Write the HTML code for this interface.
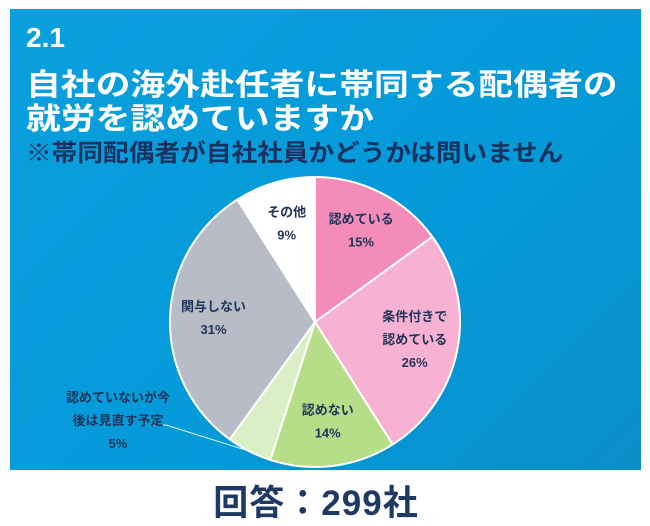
<!DOCTYPE html>
<html><head><meta charset="utf-8"><style>
body{margin:0;width:650px;height:525px;background:#fff;overflow:hidden;font-family:"Liberation Sans","Noto Sans CJK JP",sans-serif}
#panel{position:absolute;left:10px;top:9px;width:631px;height:461px;background:linear-gradient(135deg,#0aa0de 0%,#0499d8 60%,#0a8fc8 100%)}
.t{position:absolute;left:16px;color:#fff;font-weight:bold;white-space:nowrap;transform-origin:0 0}
#foot{position:absolute;left:0;width:632px;top:475px;text-align:center;font-size:35px;font-weight:bold;color:#1f3864;letter-spacing:1px}
</style></head><body>
<div id="panel">
<div class="t" style="top:13px;font-size:28px">2.1</div>
<div class="t" style="top:51px;font-size:30px;transform:scaleX(1.16)">自社の海外赴任者に帯同する配偶者の</div>
<div class="t" style="top:85px;font-size:30px;transform:scaleX(1.16)">就労を認めていますか</div>
<div class="t" style="top:124px;font-size:24px;transform:scaleX(1.07);color:#17325e">※帯同配偶者が自社社員かどうかは問いません</div>
</div>
<svg id="pie" width="650" height="525" style="position:absolute;left:0;top:0"></svg>
<div id="foot">回答：299社</div>
<script>
const categories=["認めている","条件付きで認めている","認めない","認めていないが今後は見直す予定","関与しない","その他"];
const values=[15,26,14,5,31,9];
const labelLines=[["認めている"],["条件付きで","認めている"],["認めない"],["認めていないが今","後は見直す予定"],["関与しない"],["その他"]];
const colors=["#f48cba","#f7b1d2","#b6dd88","#dbefc6","#b8bcc6","#ffffff"];
const cx=315,cy=322,r=145;
const svg=document.getElementById('pie');
const NS='http://www.w3.org/2000/svg';
const total=values.reduce((a,b)=>a+b,0);
function pt(a,rr){return [cx+rr*Math.sin(a),cy-rr*Math.cos(a)];}
let acc=0;
values.forEach((v,i)=>{
  const a0=acc/total*2*Math.PI;acc+=v;const a1=acc/total*2*Math.PI;
  const p0=pt(a0,r),p1=pt(a1,r);
  const path=document.createElementNS(NS,'path');
  path.setAttribute('d',`M${cx},${cy}L${p0[0]},${p0[1]}A${r},${r} 0 ${a1-a0>Math.PI?1:0} 1 ${p1[0]},${p1[1]}Z`);
  path.setAttribute('fill',colors[i]);path.setAttribute('stroke','#fff');path.setAttribute('stroke-width','2');
  
  
  svg.appendChild(path);
  const mid=(a0+a1)/2;
  let lx,ly,anchor='middle';
  const lines=labelLines[i].concat([v+'%']);
  if(v<7){
    const e=pt(mid,r);lx=118;ly=398;
    const ln=document.createElementNS(NS,'polyline');
    ln.setAttribute('points',`${e[0]},${e[1]} ${lx+48},${ly+27} ${lx+36},${ly+27}`);
    ln.setAttribute('fill','none');ln.setAttribute('stroke','#e8f4fb');ln.setAttribute('stroke-width','1');
    
    
    svg.appendChild(ln);
  } else {
    const c=pt(mid,r*0.7);lx=c[0];ly=c[1]-(lines.length-1)*12;
  }
  const g=document.createElementNS(NS,'text');
  g.setAttribute('text-anchor',anchor);g.setAttribute('font-size','13');g.setAttribute('font-weight','bold');g.setAttribute('fill','#1f3458');
  g.setAttribute('font-family','"Liberation Sans","Noto Sans CJK JP",sans-serif');
  
  
  lines.forEach((s,k)=>{const t=document.createElementNS(NS,'tspan');t.setAttribute('x',lx);t.setAttribute('y',ly+k*23+4);t.textContent=s;g.appendChild(t);});
  svg.appendChild(g);
});
</script>
</body></html>
